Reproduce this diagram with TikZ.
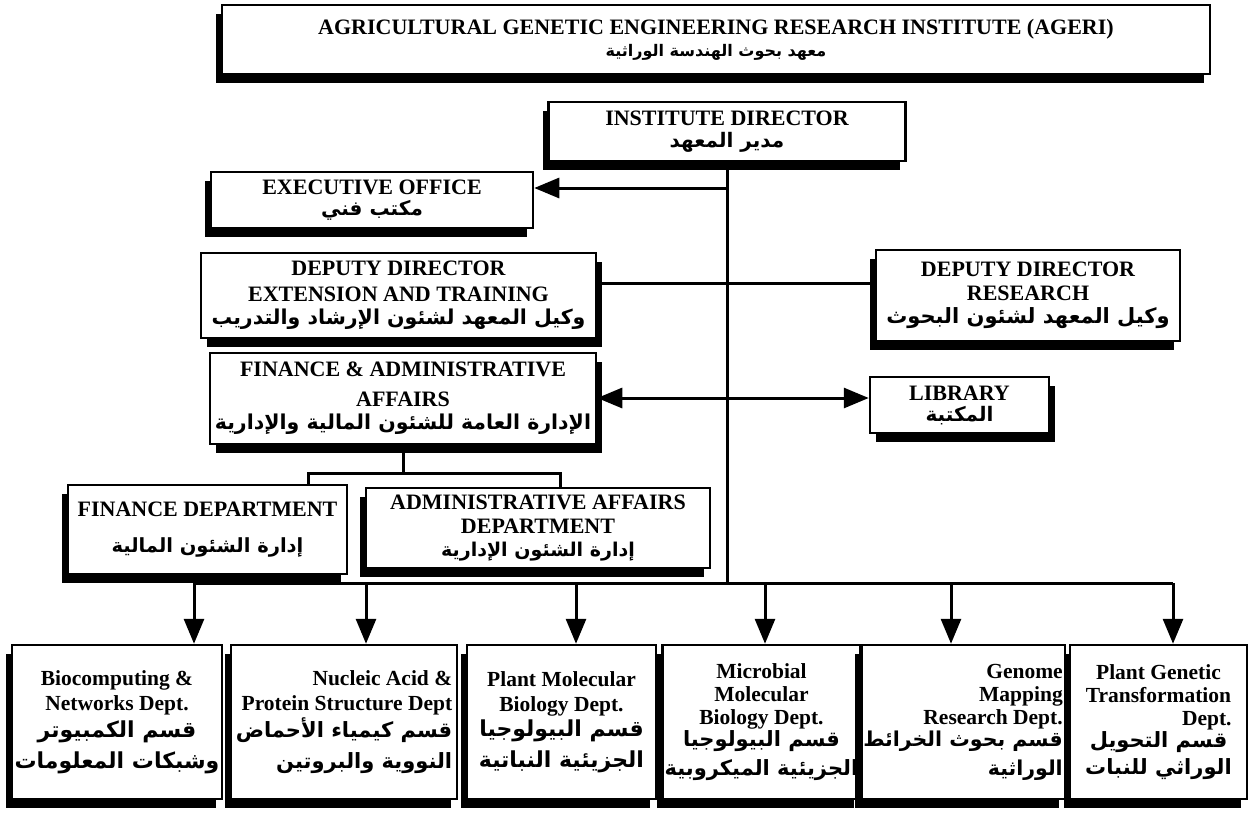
\documentclass[tikz,border=0pt]{standalone}
\usepackage{fontspec}
\setmainfont{Liberation Serif}
\newfontfamily\arfont[Script=Arabic]{DejaVu Sans}
\TeXXeTstate=1
\usetikzlibrary{arrows.meta,shadows}

\newcommand\artxt[2][21]{{\arfont\bfseries\fontsize{#1}{24}\selectfont\beginR #2\endR}}

\begin{document}
\begin{tikzpicture}[x=1pt, y=-1pt,
    box/.style={draw, fill=white, line width=2.5pt, inner sep=2pt, align=center, font=\bfseries\fontsize{22}{26}\selectfont},
    boxL/.style={box, drop shadow={shadow xshift=-6pt, shadow yshift=-9pt, fill=black, opacity=1}},
    boxR/.style={box, drop shadow={shadow xshift=6pt, shadow yshift=-9pt, fill=black, opacity=1}},
    dept/.style={boxL, minimum height=154pt, font=\bfseries\fontsize{21.5}{25}\selectfont},
    link/.style={line width=3pt},
    arr/.style={link, -{Triangle[length=25pt,width=20pt]}},
    arrs/.style={link, {Triangle[length=25pt,width=20pt]}-{Triangle[length=25pt,width=20pt]}}]
        \useasboundingbox (0,0) rectangle (1253,814);

        \node[boxL, minimum width=988pt, minimum height=69pt] (title) at (716,39.5) {AGRICULTURAL GENETIC ENGINEERING RESEARCH INSTITUTE (AGERI)\\[-4pt]\artxt[16]{معهد بحوث الهندسة الوراثية}};
        \node[boxL, minimum width=357pt, minimum height=59pt] (dir) at (727,131.5) {INSTITUTE DIRECTOR\\[-4pt]\artxt[20]{مدير المعهد}};
        \node[boxL, minimum width=322pt, minimum height=56pt] (exec) at (372,200) {EXECUTIVE OFFICE\\[-5pt]\artxt[20]{مكتب فني}};
        \node[boxR, minimum width=395pt, minimum height=85pt] (ext) at (398.5,295.5) {DEPUTY DIRECTOR\\[0pt]EXTENSION AND TRAINING\\[-3pt]\artxt[20.5]{وكيل المعهد لشئون الإرشاد والتدريب}};
        \node[boxL, minimum width=304pt, minimum height=91pt] (res) at (1028,295.5) {DEPUTY DIRECTOR\\[-2pt]RESEARCH\\[-3pt]\artxt{وكيل المعهد لشئون البحوث}};
        \node[boxR, minimum width=386pt, minimum height=91pt] (fa) at (403,398.5) {FINANCE \& ADMINISTRATIVE\\[4pt]AFFAIRS\\[-3pt]\artxt[20.5]{الإدارة العامة للشئون المالية والإدارية}};
        \node[boxR, minimum width=179pt, minimum height=56pt] (lib) at (959.5,405) {LIBRARY\\[-5pt]\artxt[20]{المكتبة}};
        \node[boxL, minimum width=279pt, minimum height=89pt] (fin) at (207.5,529.5) {FINANCE DEPARTMENT\\[10pt]\artxt[19.5]{إدارة الشئون المالية}};
        \node[boxL, minimum width=344pt, minimum height=80pt] (adm) at (538,528) {ADMINISTRATIVE AFFAIRS\\[-2pt]DEPARTMENT\\[-3pt]\artxt[19]{إدارة الشئون الإدارية}};

        % research departments
        \node[dept, minimum width=210pt] (b1) at (117,722) {Biocomputing \&\\Networks Dept.\\[2pt]\artxt[22]{قسم الكمبيوتر}\\[6pt]\artxt[22]{وشبكات  المعلومات}};
        \node[dept, minimum width=226pt, align=right] (b2) at (344,722) {Nucleic Acid \&\\Protein Structure Dept\\[2pt]\artxt[21]{قسم كيمياء الأحماض}\\[6pt]\artxt[21]{النووية والبروتين}};
        \node[dept, minimum width=189pt] (b3) at (561.5,722) {Plant Molecular\\Biology Dept.\\[0pt]\artxt[22]{قسم البيولوجيا}\\[6pt]\artxt[22]{الجزيئية النباتية}};
        \node[dept, minimum width=197pt] (b4) at (761.5,722) {Microbial\\[-2pt]Molecular\\[-2pt]Biology Dept.\\[-3pt]\artxt[21]{قسم البيولوجيا}\\[4pt]\artxt[21]{الجزيئية الميكروبية}};
        \node[dept, minimum width=190pt, align=right] (b5) at (963,722) {Genome\\[-2pt]Mapping\\[-2pt]Research Dept.\\[-3pt]\artxt[20.5]{قسم بحوث الخرائط}\\[4pt]\artxt[20.5]{الوراثية}};
        \node[dept, minimum width=177pt] (b6) at (1158.5,722) {Plant Genetic\\[-2pt]Transformation\\[-2pt]\makebox[6.8em][r]{Dept.}\\[-3pt]\artxt[21]{قسم التحويل}\\[2pt]\artxt[21]{الوراثي للنبات}};

        % connectors
        \coordinate (jexec) at (727,188);
        \coordinate (jdep) at (727,283);
        \coordinate (jlib) at (727,398);
        \coordinate (jfin) at (308,473);
        \coordinate (jadm) at (560,473);
        \coordinate (busL) at (194,583);
        \coordinate (busR) at (1173,583);
        \draw[link] (dir.south) -- (dir.south |- busR);
        \draw[link] (busL) -- (busR);
        \draw[arr] (jexec) -- (exec.east |- jexec);
        \draw[link] (ext.east |- jdep) -- (res.west |- jdep);
        \draw[arrs] (fa.east |- jlib) -- (lib.west |- jlib);
        \draw[link] (fa.south) -- (fa.south |- jfin);
        \draw[link] (jfin |- fin.north) -- (jfin) -- (jadm) -- (jadm |- adm.north);
        \foreach \x/\b [count=\i] in {194/b1,366/b2,576/b3,765/b4,951/b5,1173/b6}{
          \coordinate (tap\i) at (\x,583);
          \draw[arr] (tap\i) -- (tap\i |- \b.north);
        }
      \end{tikzpicture}
\end{document}
